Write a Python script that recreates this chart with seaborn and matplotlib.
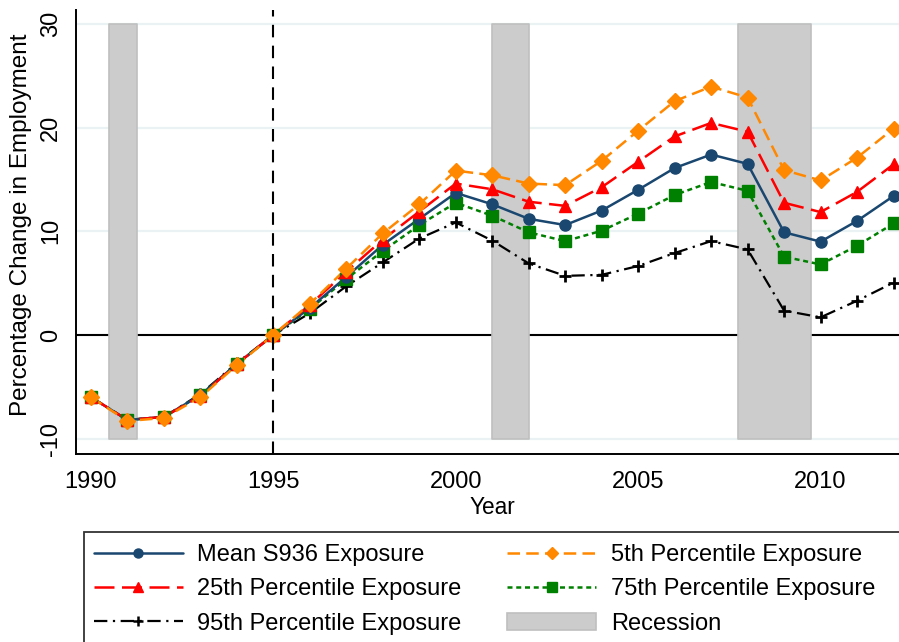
import matplotlib
matplotlib.use("Agg")
import matplotlib.pyplot as plt
import seaborn as sns
import numpy as np
import pandas as pd
from matplotlib.lines import Line2D
from matplotlib.patches import Patch, Rectangle

years = list(range(1990, 2013))
mean_s936 = [-6.0, -8.2, -7.9, -5.8, -2.8, 0.0, 2.6, 5.6, 8.7, 11.2,
             13.7, 12.6, 11.2, 10.6, 12.0, 14.0, 16.1, 17.4, 16.5, 9.9, 9.0, 11.0, 13.4]
p5 = [-6.0, -8.3, -8.0, -6.0, -2.9, 0.0, 3.0, 6.4, 9.8, 12.6,
      15.85, 15.4, 14.6, 14.45, 16.8, 19.7, 22.55, 23.95, 22.9, 15.9, 14.9, 17.1, 19.9]
p25 = [-6.0, -8.2, -7.9, -5.9, -2.8, 0.0, 2.9, 6.1, 9.2, 11.9,
       14.6, 14.05, 12.85, 12.45, 14.25, 16.7, 19.15, 20.45, 19.6, 12.75, 11.85, 13.8, 16.45]
p75 = [-6.0, -8.2, -7.9, -5.8, -2.8, 0.0, 2.5, 5.4, 8.1, 10.6,
       12.75, 11.5, 9.9, 9.05, 10.05, 11.7, 13.5, 14.75, 13.9, 7.55, 6.8, 8.6, 10.75]
p95 = [-6.0, -8.2, -7.9, -5.7, -2.7, 0.0, 2.1, 4.7, 7.0, 9.3,
       10.85, 9.1, 6.9, 5.7, 5.8, 6.65, 7.9, 9.05, 8.25, 2.35, 1.7, 3.3, 5.05]

recessions = [(1990.5, 1991.25), (2001.0, 2002.0), (2007.75, 2009.75)]

sns.set_style("white")
plt.rcParams['font.family'] = ['Liberation Sans', 'DejaVu Sans']
plt.rcParams['axes.unicode_minus'] = False
for k in ['text.color', 'axes.labelcolor', 'xtick.color', 'ytick.color']:
    plt.rcParams[k] = 'black'

FS = 17.0

fig = plt.figure(figsize=(8.99, 6.42), dpi=100)
W, H = 899, 642
ax = fig.add_axes([76 / W, 1 - 454 / H, (899 - 76) / W, (454 - 10) / H])

ax.set_xlim(1989.59, 2012.15)
ax.set_ylim(-11.48, 31.34)

for g in [-10, 10, 20, 30]:
    ax.axhline(g, color="#eaf2f3", lw=1.6, zorder=0)
ax.axhline(0, color="black", lw=1.5, zorder=1)

for a, b in recessions:
    ax.fill_between([a, b], -10, 30, facecolor="#cccccc", edgecolor="#bfbfbf", lw=1.2, zorder=2)

df = pd.DataFrame({"Year": years, "mean": mean_s936, "p5": p5, "p25": p25, "p75": p75, "p95": p95})

styles = {
    "mean": dict(color="#1a476f", linestyle="-", marker="o", markersize=8, lw=1.8),
    "p5": dict(color="#ff8800", linestyle=(0, (5, 2.5)), marker="D", markersize=8, lw=1.8),
    "p25": dict(color="#ff0000", linestyle=(0, (8, 3)), marker="^", markersize=9, lw=1.8),
    "p75": dict(color="#008000", linestyle=(0, (2, 1.5)), marker="s", markersize=8, lw=1.8),
    "p95": dict(color="black", linestyle=(0, (6, 2.5, 1, 2.5)), marker="+", markersize=9, lw=1.6),
}
order = ["p95", "p75", "mean", "p25", "p5"]
for key in order:
    st = styles[key]
    sns.lineplot(data=df, x="Year", y=key, ax=ax, color=st["color"], linestyle=st["linestyle"],
                 lw=st["lw"], zorder=3)
    if key == "p95":
        ax.plot(df["Year"], df[key], linestyle="none", marker="+", markersize=9, mew=2,
                color="black", zorder=4)
    else:
        ax.plot(df["Year"], df[key], linestyle="none", marker=st["marker"],
                markersize=st["markersize"], color=st["color"], mec=st["color"], zorder=4)

ax.axvline(1995, color="black", lw=1.5, linestyle=(0, (6, 4)), zorder=5)

sns.despine(ax=ax, top=True, right=True)
for s in ["left", "bottom"]:
    ax.spines[s].set_color("black")
    ax.spines[s].set_linewidth(1.4)

ax.set_xticks([1990, 1995, 2000, 2005, 2010])
ax.set_yticks([-10, 0, 10, 20, 30])
ax.tick_params(axis="x", direction="out", length=9, width=1.2, color="black", labelsize=FS, pad=3)
ax.tick_params(axis="y", direction="out", length=7, width=1.2, color="black", labelsize=FS, pad=3)
for lab in ax.get_yticklabels():
    lab.set_rotation(90)
    lab.set_va("center")
ax.set_xlabel("Year", fontsize=16.3)
ax.set_ylabel("Percentage Change in Employment", fontsize=17.5)
ax.xaxis.set_label_coords(0.506, -0.095)
ax.yaxis.set_label_coords(-0.053, 0.516)

handles = [
    Line2D([], [], color="#1a476f", linestyle="-", marker="o", markersize=6.5, lw=1.8),
    Line2D([], [], color="#ff0000", linestyle=(0, (8, 3)), marker="^", markersize=7, lw=1.8),
    Line2D([], [], color="black", linestyle=(0, (6, 2.5, 1, 2.5)), marker="+", markersize=7, mew=1.8, lw=1.6),
    Line2D([], [], color="#ff8800", linestyle=(0, (5, 2.5)), marker="D", markersize=6.5, lw=1.8),
    Line2D([], [], color="#008000", linestyle=(0, (2, 1.5)), marker="s", markersize=6.5, lw=1.8),
    Patch(facecolor="#cccccc", edgecolor="#bfbfbf", lw=1.2),
]
labels = ["Mean S936 Exposure", "25th Percentile Exposure", "95th Percentile Exposure",
          "5th Percentile Exposure", "75th Percentile Exposure", "Recession"]
leg = fig.legend(handles, labels, ncol=2, loc="upper left", bbox_to_anchor=(94 / W, 1 - 544 / H),
                 frameon=False, prop={"size": FS},
                 handlelength=3.75, handletextpad=0.62, columnspacing=1.95, labelspacing=0.52,
                 borderpad=0, borderaxespad=0)

frame = Rectangle((84 / W, -0.1), 1.2, (1 - 532 / H) + 0.1, transform=fig.transFigure,
                  facecolor="none", edgecolor="#333333", lw=1.3, clip_on=False)
fig.add_artist(frame)

fig.savefig("out.png", dpi=100)
